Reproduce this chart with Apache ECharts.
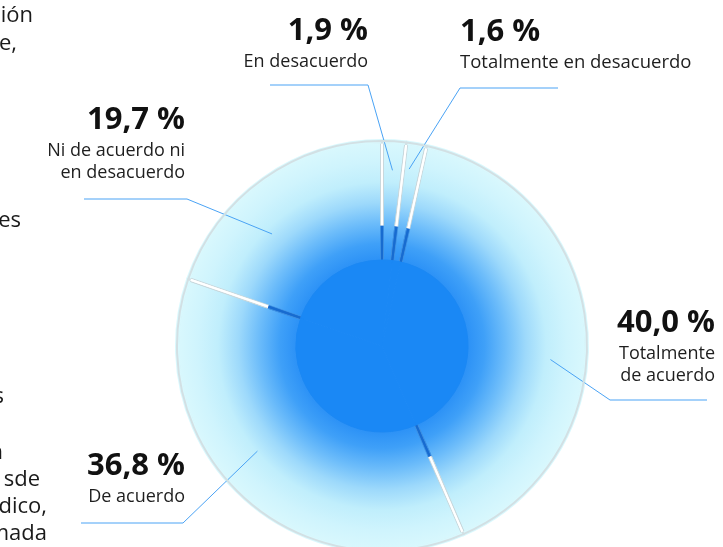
<!DOCTYPE html>
<html>
<head>
<meta charset="utf-8">
<script src="https://cdn.jsdelivr.net/npm/echarts@6/dist/echarts.min.js"></script>
<style>
  html, body { margin: 0; padding: 0; background: #ffffff; }
  #chart { width: 723px; height: 547px; }
</style>
</head>
<body>
<div id="chart"></div>
<script>
// Answers, clockwise from 12 o'clock
const categories = ['En desacuerdo', 'Totalmente en desacuerdo', 'Totalmente de acuerdo', 'De acuerdo', 'Ni de acuerdo ni en desacuerdo'];
const labelNames = ['En desacuerdo', 'Totalmente en desacuerdo', 'Totalmente\nde acuerdo', 'De acuerdo', 'Ni de acuerdo ni\nen desacuerdo'];
const shares = [1.9, 1.6, 40.0, 36.8, 19.7];

// Tail ends of the neighbouring paragraph
const paragraphFragments = ['ción', 'e,', 'es', 's', 'n', 'sde', 'dico,', 'mada'];

// ---- layout ----
const CX = 382, CY = 346;
const R_IN = 84, R_OUT = 205, R_SPLIT = 120;
const FONT = '"Open Sans", "Noto Sans", sans-serif';

// text block placement and leader line route for each answer
const labelBoxes = [
  { x: 368, y: 11,  align: 'right', knee: [368, 85],  end: [270, 85],  shift: 0,  r: 176 },
  { x: 460, y: 12,  align: 'left',  knee: [460, 88],  end: [558, 88],  shift: -1, r: 179 },
  { x: 715, y: 303, align: 'right', knee: [610, 400], end: [707, 400], shift: 10, r: 169 },
  { x: 185, y: 446, align: 'right', knee: [183, 523], end: [81, 523],  shift: 7,  r: 163 },
  { x: 185, y: 100, align: 'right', knee: [187, 199], end: [84, 199],  shift: -9, r: 157 }
];
const fragmentRight = [33, 17, 21, 4, 3, 40, 47, 47];
const fragmentBaseline = [23, 51, 228, 404, 460, 487, 514, 541];

const total = shares.reduce((a, b) => a + b, 0);
function midAngle(i) {
  let before = 0;
  for (let k = 0; k < i; k++) before += shares[k];
  return (before + shares[i] / 2) / total * 360;
}
function polar(angleDeg, r) {
  const a = angleDeg * Math.PI / 180;
  return [CX + r * Math.sin(a), CY - r * Math.cos(a)];
}
function fmt(v) { return v.toFixed(1).replace('.', ',') + ' %'; }

const pieData = categories.map((name, i) => ({ name: name, value: shares[i] }));

function radial(stops) {
  return { type: 'radial', x: CX, y: CY, r: R_OUT, global: true, colorStops: stops };
}
const split = R_SPLIT / R_OUT;
const rim = (R_OUT - 3) / R_OUT;

const ringFill = radial([
  { offset: 0,    color: '#1a88f5' },
  { offset: 0.41, color: '#2a90f6' },
  { offset: 0.5,  color: '#3fa0f8' },
  { offset: 0.6,  color: '#6cbcfa' },
  { offset: 0.7,  color: '#9dd9fb' },
  { offset: 0.8,  color: '#c0eefc' },
  { offset: 0.9,  color: '#cff4fd' },
  { offset: 1,    color: '#d9f8fd' }
]);
// wide under-stroke: blue near the core, grey along the white gaps, fill colour on the rim
const edgeStroke = radial([
  { offset: 0, color: '#3c8fe2' },
  { offset: split, color: '#3c8fe2' },
  { offset: split + 0.004, color: '#c8d8dd' },
  { offset: rim, color: '#c8d8dd' },
  { offset: rim + 0.004, color: '#d9f8fd' },
  { offset: 1, color: '#d9f8fd' }
]);
// narrow over-stroke: the gap itself, with a thin grey outer rim
const gapStroke = radial([
  { offset: 0, color: '#176bd0' },
  { offset: split, color: '#176bd0' },
  { offset: split + 0.004, color: '#ffffff' },
  { offset: rim, color: '#ffffff' },
  { offset: rim + 0.004, color: '#d2e0e4' },
  { offset: 1, color: '#d2e0e4' }
]);

const baseRich = {
  vright: { fontFamily: FONT, fontSize: 31, fontWeight: 'bold', color: '#111111', lineHeight: 40, align: 'right' },
  nright: { fontFamily: FONT, fontSize: 18, color: '#1e1e1e', lineHeight: 22, align: 'right' },
  vleft:  { fontFamily: FONT, fontSize: 31, fontWeight: 'bold', color: '#111111', lineHeight: 40, align: 'left' },
  nleft:  { fontFamily: FONT, fontSize: 18.5, color: '#1e1e1e', lineHeight: 22, align: 'left' }
};

const common = {
  type: 'pie',
  center: [CX, CY],
  startAngle: 90,
  clockwise: true,
  avoidLabelOverlap: false,
  animation: false,
  silent: true,
  emphasis: { disabled: true },
  data: pieData
};

const chart = echarts.init(document.getElementById('chart'), null, { renderer: 'canvas' });
chart.setOption({
  backgroundColor: '#ffffff',
  animation: false,
  series: [
    Object.assign({}, common, {
      name: 'ring',
      z: 1,
      radius: [R_IN, R_OUT],
      itemStyle: { color: ringFill, borderColor: edgeStroke, borderWidth: 4 },
      label: { show: false },
      labelLine: { show: false }
    }),
    Object.assign({}, common, {
      name: 'gaps',
      z: 2,
      radius: [R_IN, R_OUT],
      itemStyle: { color: 'rgba(0,0,0,0)', borderColor: gapStroke, borderWidth: 2 },
      label: {
        show: true,
        position: 'outside',
        rich: baseRich,
        formatter: function (p) {
          const side = labelBoxes[p.dataIndex].align;
          const lines = labelNames[p.dataIndex].split('\n').map(l => '{n' + side + '|' + l + '}');
          return '{v' + side + '|' + fmt(p.value) + '}\n' + lines.join('\n');
        }
      },
      labelLine: { show: true, smooth: false, lineStyle: { color: '#4aa3f5', width: 1 } },
      labelLayout: function (params) {
        const i = params.dataIndex;
        const b = labelBoxes[i];
        const anchor = polar(midAngle(i) + b.shift, b.r);
        return {
          x: b.x,
          y: b.y,
          align: b.align,
          verticalAlign: 'top',
          labelLinePoints: [anchor, b.knee, b.end]
        };
      }
    }),
    Object.assign({}, common, {
      name: 'core',
      z: 3,
      radius: [0, R_IN + 2],
      itemStyle: { color: '#1a88f5', borderColor: '#1a88f5', borderWidth: 1 },
      label: { show: false },
      labelLine: { show: false }
    })
  ],
  graphic: paragraphFragments.map((t, i) => ({
    type: 'text',
    x: fragmentRight[i],
    y: fragmentBaseline[i] - 7,
    silent: true,
    style: {
      text: t,
      fontFamily: FONT,
      fontSize: 22,
      fill: '#1a1a1a',
      align: 'right',
      verticalAlign: 'middle'
    }
  }))
});
</script>
</body>
</html>
